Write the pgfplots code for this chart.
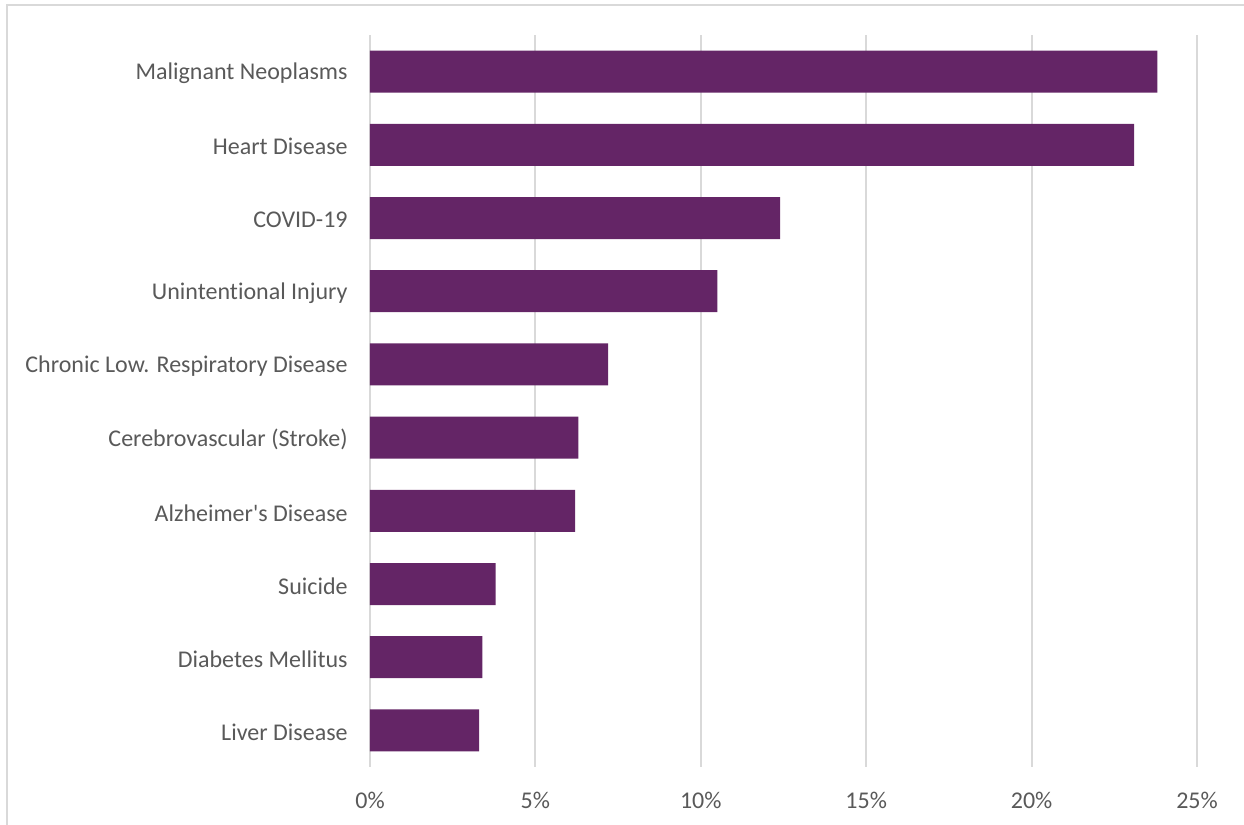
\documentclass[border=0pt]{standalone}
\usepackage{pgfplots}
\pgfplotsset{compat=1.18}
\usepackage{fontspec}
\setmainfont{Carlito}[Ligatures={NoCommon}]
\definecolor{barc}{RGB}{100,37,102}
\definecolor{txt}{RGB}{89,89,89}
\definecolor{grd}{RGB}{217,217,217}
\begin{document}
\begin{tikzpicture}[x=1pt,y=1pt]
\useasboundingbox (0,0) rectangle (622,412.5);
\draw[grd, line width=1pt] (3.5,0) -- (3.5,410) -- (622,410);
\begin{axis}[
  at={(185pt,29pt)}, anchor=south west,
  scale only axis,
  width=413.5pt, height=366pt,
  xmin=0, xmax=25, ymin=-0.5, ymax=9.5,
  y dir=reverse,
  axis line style={draw=none},
  xbar, bar width=21pt,
  xtick={0,5,10,15,20,25},
  xmajorgrids, grid style={grd, line width=1pt},
  ytick={0,...,9},
  yticklabels={Malignant Neoplasms, Heart Disease, COVID-19, Unintentional Injury, Chronic Low. Respiratory Disease, Cerebrovascular (Stroke), Alzheimer\textquotesingle s Disease, Suicide, Diabetes Mellitus, Liver Disease},
  major tick length=0pt, tick style={draw=none},
  /pgf/number format/assume math mode=true,
  xticklabel={\pgfmathprintnumber{\tick}\%},
  xticklabel style={anchor=center, inner sep=0pt, yshift=-16.5pt, font=\fontsize{12}{14}\selectfont, text=txt},
  yticklabel style={anchor=east, inner sep=0pt, xshift=-11pt, yshift=-1pt, font=\fontsize{12}{14}\selectfont, text=txt},
  clip=false,
]
\addplot[fill=barc, draw=none] coordinates {
(23.8,0) (23.1,1) (12.4,2) (10.5,3) (7.2,4) (6.3,5) (6.2,6) (3.8,7) (3.4,8) (3.3,9)
};
\end{axis}
\end{tikzpicture}
\end{document}
